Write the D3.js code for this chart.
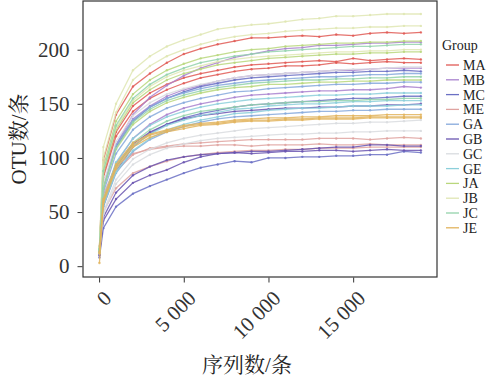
<!DOCTYPE html>
<html>
<head>
<meta charset="utf-8">
<script src="https://cdn.jsdelivr.net/npm/d3@7"></script>
<style>
  html, body { margin: 0; padding: 0; background: #fff; }
  svg { display: block; }
  text { font-family: "Liberation Serif", "Times New Roman", "Noto Serif CJK SC", "Noto Sans CJK SC", serif; }
</style>
</head>
<body>
<svg id="chart" width="490" height="380"></svg>
<script>
// ---- data ----
const depths = [20, 250, 1000, 2000, 3000, 4000, 5000, 6000, 7000, 8000, 9000, 10000, 11000, 12000, 13000, 14000, 15000, 16000, 17000, 18000, 19000];
const groups = ["MA", "MB", "MC", "ME", "GA", "GB", "GC", "GE", "JA", "JB", "JC", "JE"];
const groupColors = ["#e05a55", "#a983cf", "#6b70c4", "#dfa3a0", "#86a9dc", "#6a55b0", "#d9dcdf", "#8ccfda", "#b9d77c", "#dfe6b3", "#93d2ab", "#e2b45e"];
const xTicks = [0, 5000, 10000, 15000];
const yTicks = [0, 50, 100, 150, 200];

const MA1 = [18, 98, 140, 166, 178, 188, 196, 201, 205, 208, 211, 211, 212, 213, 212, 214, 213, 215, 216, 215, 216];
const MA2 = [16, 85, 124, 148, 160, 168, 174, 178, 181, 184, 186, 187, 188, 189, 190, 189, 192, 190, 191, 192, 191];
const MA3 = [15, 82, 120, 143, 155, 163, 169, 174, 177, 180, 182, 183, 185, 185, 186, 188, 187, 188, 189, 188, 188];
const MB1 = [14, 72, 112, 140, 156, 167, 176, 183, 188, 193, 196, 199, 201, 202, 204, 204, 205, 206, 206, 207, 207];
const MB2 = [13, 62, 95, 118, 131, 140, 146, 150, 153, 156, 158, 159, 160, 161, 162, 162, 163, 163, 164, 166, 165];
const MB3 = [15, 75, 112, 136, 148, 157, 163, 167, 171, 174, 176, 177, 178, 179, 180, 181, 181, 182, 183, 183, 183];
const MC1 = [15, 72, 110, 134, 147, 155, 161, 166, 169, 172, 174, 175, 176, 177, 178, 179, 179, 180, 180, 181, 180];
const MC2 = [13, 55, 88, 110, 123, 131, 137, 141, 144, 147, 149, 150, 151, 152, 153, 154, 155, 155, 156, 157, 157];
const MC3 = [8, 35, 55, 67, 74, 80, 86, 91, 94, 97, 96, 100, 100, 101, 101, 102, 102, 103, 103, 106, 105];
const ME1 = [14, 62, 88, 103, 109, 111, 113, 114, 115, 116, 117, 117, 117, 117, 118, 118, 118, 117, 118, 119, 118];
const ME2 = [13, 66, 93, 104, 108, 110, 111, 111, 112, 112, 111, 112, 112, 112, 113, 112, 112, 113, 112, 112, 112];
const ME3 = [12, 50, 72, 86, 92, 97, 101, 103, 105, 106, 107, 107, 108, 108, 109, 109, 109, 110, 110, 110, 110];
const GA1 = [15, 74, 112, 135, 147, 155, 160, 164, 167, 169, 171, 172, 173, 174, 175, 175, 176, 177, 177, 178, 178];
const GA2 = [14, 68, 104, 126, 138, 146, 151, 155, 158, 161, 162, 164, 165, 166, 167, 168, 168, 169, 169, 170, 170];
const GA3 = [13, 55, 86, 106, 117, 124, 129, 133, 136, 138, 139, 140, 141, 142, 143, 143, 144, 144, 145, 145, 145];
const GB1 = [10, 42, 62, 77, 84, 89, 96, 101, 104, 105, 106, 106, 107, 108, 109, 110, 110, 112, 112, 111, 111];
const GB2 = [11, 45, 68, 84, 92, 98, 101, 103, 104, 105, 104, 105, 106, 106, 107, 107, 106, 107, 108, 107, 107];
const GB3 = [13, 58, 92, 113, 124, 131, 136, 139, 141, 143, 144, 145, 146, 146, 147, 147, 148, 148, 149, 149, 150];
const GC1 = [15, 76, 115, 139, 151, 159, 164, 168, 171, 174, 176, 177, 178, 179, 180, 181, 182, 182, 183, 184, 184];
const GC2 = [12, 50, 80, 99, 108, 114, 118, 121, 123, 125, 127, 128, 129, 130, 131, 132, 132, 133, 133, 134, 135];
const GC3 = [12, 48, 76, 94, 103, 109, 113, 116, 118, 119, 120, 121, 122, 122, 123, 123, 124, 124, 125, 125, 125];
const GE1 = [13, 62, 96, 118, 130, 138, 143, 147, 150, 152, 154, 155, 156, 157, 158, 158, 159, 159, 160, 160, 160];
const GE2 = [13, 58, 90, 111, 122, 130, 135, 139, 142, 145, 146, 148, 149, 150, 150, 151, 152, 152, 153, 153, 153];
const GE3 = [12, 56, 87, 107, 118, 126, 131, 135, 138, 141, 142, 144, 145, 146, 146, 147, 148, 148, 148, 149, 149];
const JA1 = [17, 92, 134, 159, 172, 181, 187, 192, 195, 198, 200, 201, 203, 204, 205, 206, 206, 207, 207, 208, 208];
const JA2 = [16, 86, 126, 151, 163, 172, 178, 182, 186, 188, 190, 192, 193, 194, 195, 196, 196, 197, 197, 198, 198];
const JA3 = [15, 72, 108, 131, 143, 151, 156, 160, 163, 165, 166, 168, 168, 169, 170, 170, 171, 171, 172, 172, 172];
const JB1 = [18, 110, 150, 181, 194, 203, 209, 214, 219, 221, 223, 224, 226, 228, 229, 231, 231, 232, 233, 233, 233];
const JB2 = [17, 100, 142, 172, 185, 194, 200, 205, 209, 212, 214, 215, 217, 218, 219, 220, 220, 221, 221, 222, 222];
const JB3 = [16, 88, 128, 153, 166, 175, 181, 185, 189, 191, 193, 194, 195, 196, 197, 198, 198, 199, 199, 200, 200];
const JC1 = [16, 88, 130, 155, 168, 177, 183, 188, 191, 194, 196, 198, 199, 200, 201, 202, 203, 203, 204, 205, 205];
const JC2 = [15, 72, 109, 133, 145, 153, 158, 162, 165, 167, 169, 170, 171, 172, 172, 173, 173, 174, 174, 175, 175];
const JC3 = [13, 60, 93, 114, 126, 134, 139, 143, 145, 147, 149, 150, 151, 152, 152, 153, 153, 154, 154, 155, 155];
const JE1 = [3, 62, 94, 114, 122, 126, 130, 132, 133, 135, 136, 137, 137, 138, 138, 139, 139, 139, 140, 140, 140];
const JE2 = [13, 60, 92, 112, 121, 125, 129, 131, 132, 134, 135, 135, 136, 136, 137, 137, 137, 138, 138, 138, 138];
const JE3 = [12, 58, 90, 110, 119, 124, 127, 130, 131, 133, 134, 134, 135, 135, 136, 136, 136, 137, 137, 137, 137];

const replicates = [
  ["MA", MA1], ["MA", MA2], ["MA", MA3],
  ["MB", MB1], ["MB", MB2], ["MB", MB3],
  ["MC", MC1], ["MC", MC2], ["MC", MC3],
  ["ME", ME1], ["ME", ME2], ["ME", ME3],
  ["GA", GA1], ["GA", GA2], ["GA", GA3],
  ["GB", GB1], ["GB", GB2], ["GB", GB3],
  ["GC", GC1], ["GC", GC2], ["GC", GC3],
  ["GE", GE1], ["GE", GE2], ["GE", GE3],
  ["JA", JA1], ["JA", JA2], ["JA", JA3],
  ["JB", JB1], ["JB", JB2], ["JB", JB3],
  ["JC", JC1], ["JC", JC2], ["JC", JC3],
  ["JE", JE1], ["JE", JE2], ["JE", JE3]
];

// ---- layout ----
const svg = d3.select("#chart");
const plot = { left: 83, top: 1, right: 437, bottom: 277 };

const x = d3.scaleLinear().domain([-950, 19950]).range([plot.left, plot.right]);
const y = d3.scaleLinear().domain([-10, 245]).range([plot.bottom, plot.top]);
const color = d3.scaleOrdinal().domain(groups).range(groupColors);

const fontSerif = '"Liberation Serif", "Times New Roman", serif';
const fontCJK = '"Liberation Serif", "Noto Sans CJK SC", sans-serif';

// lines
const line = d3.line().x((d, i) => x(depths[i])).y(d => y(d));
const g = svg.append("g");
replicates.forEach(([grp, vals]) => {
  g.append("path")
    .datum(vals)
    .attr("d", line)
    .attr("fill", "none")
    .attr("stroke", color(grp))
    .attr("stroke-width", 1.3)
    .attr("stroke-opacity", 0.85);
  g.selectAll(null)
    .data(vals)
    .enter().append("circle")
    .attr("cx", (d, i) => x(depths[i]))
    .attr("cy", d => y(d))
    .attr("r", 1.2)
    .attr("fill", color(grp))
    .attr("fill-opacity", 0.85);
});

// frame
svg.append("rect")
  .attr("x", plot.left).attr("y", plot.top)
  .attr("width", plot.right - plot.left).attr("height", plot.bottom - plot.top)
  .attr("fill", "none").attr("stroke", "#333").attr("stroke-width", 1.2);

// y axis
const yAxis = d3.axisLeft(y).tickValues(yTicks).tickSize(5).tickPadding(8);
const yg = svg.append("g").attr("transform", `translate(${plot.left - 0.5},0)`).call(yAxis);
yg.select(".domain").remove();
yg.selectAll(".tick line").attr("stroke", "#333");
yg.selectAll(".tick text").attr("font-family", fontSerif).attr("font-size", 21).attr("fill", "#333");

// x axis
const fmt = d => d === 0 ? "0" : d3.format(",")(d).replace(/,/g, " ");
const xAxis = d3.axisBottom(x).tickValues(xTicks).tickSize(5).tickFormat(fmt);
const xg = svg.append("g").attr("transform", `translate(0,${plot.bottom + 0.5})`).call(xAxis);
xg.select(".domain").remove();
xg.selectAll(".tick line").attr("stroke", "#333");
xg.selectAll(".tick text")
  .attr("font-family", fontSerif).attr("font-size", 21).attr("fill", "#333")
  .attr("text-anchor", "end")
  .attr("dy", null)
  .attr("y", 0)
  .attr("transform", "translate(13,22) rotate(-45)");

// axis titles
svg.append("text")
  .attr("x", 247).attr("y", 372)
  .attr("text-anchor", "middle")
  .attr("font-family", fontCJK).attr("font-size", 21).attr("fill", "#222")
  .text("序列数/条");
svg.append("text")
  .attr("transform", "translate(26,139) rotate(-90)")
  .attr("text-anchor", "middle")
  .attr("font-family", fontCJK).attr("font-size", 21).attr("fill", "#222")
  .text("OTU数/条");

// legend
const lg = svg.append("g");
lg.append("text")
  .attr("x", 442).attr("y", 50)
  .attr("font-family", fontSerif).attr("font-size", 14).attr("fill", "#222")
  .text("Group");
groups.forEach((grp, i) => {
  const yy = 65 + i * 14.8;
  lg.append("line")
    .attr("x1", 446).attr("x2", 459).attr("y1", yy).attr("y2", yy)
    .attr("stroke", color(grp)).attr("stroke-width", 1.3);
  lg.append("text")
    .attr("x", 463).attr("y", yy + 5)
    .attr("font-family", fontSerif).attr("font-size", 14).attr("fill", "#222")
    .text(grp);
});
</script>
</body>
</html>
